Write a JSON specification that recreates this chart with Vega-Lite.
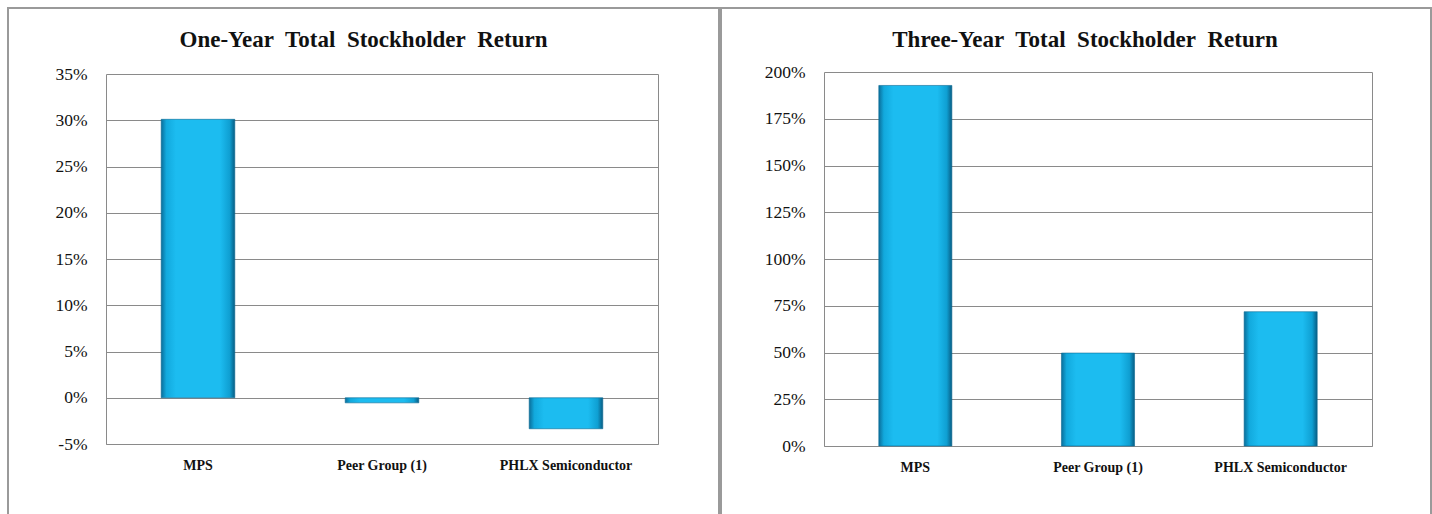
{
  "$schema": "https://vega.github.io/schema/vega-lite/v6.json",
  "padding": {"left": 7, "top": 7, "right": 0, "bottom": 0},
  "autosize": {"type": "pad"},
  "background": "white",
  "spacing": 0,
  "config": {
    "view": {"stroke": "#9a9a9a", "strokeWidth": 2},
    "font": "Liberation Serif",
    "title": {"font": "Liberation Serif", "fontSize": 23, "fontWeight": "bold", "color": "#111111", "anchor": "middle"},
    "axis": {"domainColor": "#8a8a8a", "gridColor": "#8a8a8a", "ticks": false, "labelColor": "#111111", "labelFont": "Liberation Serif", "title": null}
  },
  "hconcat": [
    {
      "width": 711,
      "height": 510,
      "title": {"text": "One-Year\u00a0 Total\u00a0 Stockholder\u00a0 Return", "offset": -44},
      "data": {"values": [
        {"name": "MPS", "ret": 30.1},
        {"name": "Peer Group (1)", "ret": -0.55},
        {"name": "PHLX Semiconductor", "ret": -3.35}
      ]},
      "layer": [
        {
          "mark": {"type": "bar", "stroke": "#0a6a94", "strokeWidth": 0.6,
            "color": {"gradient": "linear", "x1": 0, "x2": 1, "y1": 0, "y2": 0, "stops": [
              {"offset": 0, "color": "#0a6e9a"}, {"offset": 0.07, "color": "#12a9dd"}, {"offset": 0.2, "color": "#1cbcf0"},
              {"offset": 0.8, "color": "#1cbcf0"}, {"offset": 0.93, "color": "#0f9fd2"}, {"offset": 1, "color": "#085d84"}]}},
          "encoding": {
            "x": {"field": "name", "type": "nominal", "sort": null,
              "scale": {"range": [98, 650], "paddingInner": 0.6, "paddingOuter": 0.3},
              "axis": {"orient": "bottom", "offset": -74, "labelAngle": 0, "labelFontWeight": "bold", "labelFontSize": 14, "labelPadding": 14, "grid": false}},
            "y": {"field": "ret", "type": "quantitative",
              "scale": {"domain": [-5, 35], "range": [436, 66], "nice": false, "zero": false},
              "axis": {"orient": "left", "offset": -98, "values": [-5, 0, 5, 10, 15, 20, 25, 30, 35], "labelExpr": "datum.value + '%'", "grid": true, "labelFontSize": 17.5, "labelPadding": 19}}
          }
        },
        {
          "mark": {"type": "point", "opacity": 0},
          "encoding": {
            "y": {"field": "ret", "type": "quantitative",
              "axis": {"orient": "right", "offset": -61, "labels": false, "grid": false, "domain": true}}
          }
        }
      ],
      "resolve": {"axis": {"y": "independent"}}
    },
    {
      "width": 710,
      "height": 510,
      "title": {"text": "Three-Year\u00a0 Total\u00a0 Stockholder\u00a0 Return", "offset": -44, "dx": 9},
      "data": {"values": [
        {"name": "MPS", "ret": 192.8},
        {"name": "Peer Group (1)", "ret": 49.7},
        {"name": "PHLX Semiconductor", "ret": 71.8}
      ]},
      "layer": [
        {
          "mark": {"type": "bar", "stroke": "#0a6a94", "strokeWidth": 0.6,
            "color": {"gradient": "linear", "x1": 0, "x2": 1, "y1": 0, "y2": 0, "stops": [
              {"offset": 0, "color": "#0a6e9a"}, {"offset": 0.07, "color": "#12a9dd"}, {"offset": 0.2, "color": "#1cbcf0"},
              {"offset": 0.8, "color": "#1cbcf0"}, {"offset": 0.93, "color": "#0f9fd2"}, {"offset": 1, "color": "#085d84"}]}},
          "encoding": {
            "x": {"field": "name", "type": "nominal", "sort": null,
              "scale": {"range": [103, 651], "paddingInner": 0.6, "paddingOuter": 0.3},
              "axis": {"orient": "bottom", "offset": -72, "labelAngle": 0, "labelFontWeight": "bold", "labelFontSize": 14, "labelPadding": 14, "grid": false}},
            "y": {"field": "ret", "type": "quantitative",
              "scale": {"domain": [0, 200], "range": [438, 64], "nice": false, "zero": false},
              "axis": {"orient": "left", "offset": -103, "values": [0, 25, 50, 75, 100, 125, 150, 175, 200], "labelExpr": "datum.value + '%'", "grid": true, "labelFontSize": 17.5, "labelPadding": 19}}
          }
        },
        {
          "mark": {"type": "point", "opacity": 0},
          "encoding": {
            "y": {"field": "ret", "type": "quantitative",
              "axis": {"orient": "right", "offset": -59, "labels": false, "grid": false, "domain": true}}
          }
        }
      ],
      "resolve": {"axis": {"y": "independent"}}
    }
  ]
}
